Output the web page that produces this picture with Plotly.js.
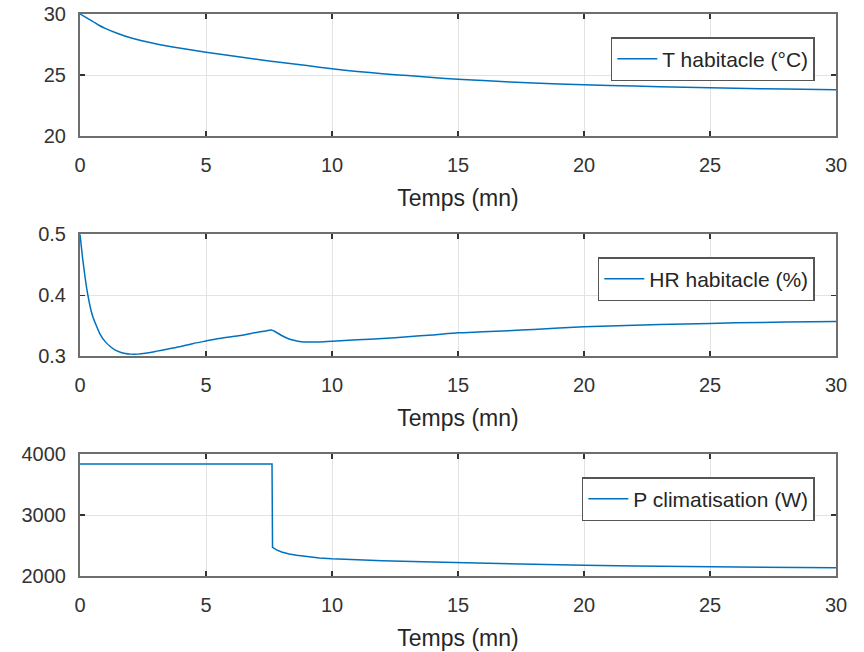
<!DOCTYPE html>
<html>
<head>
<meta charset="utf-8">
<script src="https://cdn.plot.ly/plotly-3.0.1.min.js"></script>
<style>html,body{margin:0;padding:0;background:#fff;}#chart{width:864px;height:652px;}</style>
</head>
<body>
<div id="chart"></div>
<script>
// Temperature (°C)
const tT = [0, 0.25, 0.5, 0.75, 1, 1.5, 2, 3, 4, 5, 6, 7, 8, 9, 10, 11, 12, 13, 14, 15, 16, 18, 20, 22, 24, 26, 28, 30];
const vT = [30, 29.7, 29.4, 29.08, 28.82, 28.4, 28.05, 27.57, 27.2, 26.88, 26.58, 26.3, 26.03, 25.78, 25.52, 25.3, 25.12, 24.96, 24.8, 24.66, 24.55, 24.36, 24.21, 24.1, 24.01, 23.93, 23.86, 23.8];

// Relative humidity (fraction)
const tHR = [0, 0.1, 0.2, 0.3, 0.4, 0.5, 0.65, 0.8, 1.0, 1.2, 1.4, 1.6, 1.8, 2.0, 2.3, 2.6, 3, 3.5, 4, 4.5, 5, 5.5, 6, 6.5, 7, 7.3, 7.6, 7.8, 8.0, 8.2, 8.4, 8.6, 8.8, 9.0, 9.5, 10, 11, 12, 13, 14, 15, 16, 17, 18, 20, 22, 24, 26, 28, 30];
const vHR = [0.500, 0.462, 0.430, 0.403, 0.382, 0.366, 0.350, 0.336, 0.324, 0.316, 0.310, 0.3065, 0.3045, 0.3035, 0.3035, 0.305, 0.308, 0.312, 0.316, 0.321, 0.325, 0.329, 0.332, 0.335, 0.339, 0.341, 0.343, 0.339, 0.334, 0.330, 0.327, 0.325, 0.3237, 0.3233, 0.3235, 0.3245, 0.327, 0.329, 0.332, 0.335, 0.3385, 0.340, 0.342, 0.344, 0.3485, 0.351, 0.353, 0.3548, 0.356, 0.357];

// Air-conditioning power (W)
const tP = [0, 7.62, 7.64, 7.8, 8.0, 8.3, 8.6, 9.0, 9.5, 10, 11, 12, 14, 16, 18, 20, 22, 25, 28, 30];
const vP = [3840, 3840, 2470, 2430, 2395, 2360, 2340, 2315, 2295, 2282, 2265, 2250, 2228, 2208, 2190, 2175, 2163, 2150, 2140, 2135];

const names = ['T habitacle (°C)', 'HR habitacle (%)', 'P climatisation (W)'];
const xTitle = 'Temps (mn)';

const FONT = 'Liberation Sans, Arial, sans-serif';
const lineColor = '#0072BD';

const traces = [
  {x: tT, y: vT, name: names[0], xaxis: 'x', yaxis: 'y', legend: 'legend', line: {shape: 'spline', smoothing: 0.8}},
  {x: tHR, y: vHR, name: names[1], xaxis: 'x2', yaxis: 'y2', legend: 'legend2', line: {shape: 'spline', smoothing: 0.5}},
  {x: tP, y: vP, name: names[2], xaxis: 'x3', yaxis: 'y3', legend: 'legend3', line: {shape: 'linear'}}
].map(t => { t.type = 'scatter'; t.mode = 'lines'; t.showlegend = true;
  t.line.color = lineColor; t.line.width = 1.5; return t; });

function xax(anchor) {
  return {
    anchor: anchor, domain: [0, 1], range: [0, 30], dtick: 5, tick0: 0,
    showline: true, linecolor: '#6e6e6e', linewidth: 2, mirror: 'allticks',
    ticks: 'inside', ticklen: 5, tickwidth: 1.5, tickcolor: '#333',
    showgrid: true, gridcolor: '#e3e3e3', gridwidth: 1, zeroline: false,
    tickfont: {family: FONT, size: 20, color: '#333'},
    ticklabelstandoff: 10,
    title: {text: xTitle, font: {family: FONT, size: 23, color: '#262626'}, standoff: 15},
    automargin: false
  };
}
function yax(anchor, dom, range, dtick, fmt) {
  return {
    anchor: anchor, domain: dom, range: range, dtick: dtick, tick0: range[0],
    showline: true, linecolor: '#6e6e6e', linewidth: 2, mirror: 'allticks',
    ticks: 'inside', ticklen: 5, tickwidth: 1.5, tickcolor: '#333',
    showgrid: true, gridcolor: '#e3e3e3', gridwidth: 1, zeroline: false,
    tickfont: {family: FONT, size: 20, color: '#333'},
    tickformat: fmt, ticklabelstandoff: 8,
    automargin: false
  };
}
function leg(y) {
  return {x: 0.972, y: y, xanchor: 'right', yanchor: 'top',
    bgcolor: '#ffffff', bordercolor: '#555', borderwidth: 1.5,
    font: {family: FONT, size: 21, color: '#262626'}, itemwidth: 40};
}

const doms = [[0.7825, 1], [0.391, 0.608], [0, 0.2166]];

const layout = {
  width: 864, height: 652,
  margin: {l: 80, r: 28, t: 14, b: 76},
  paper_bgcolor: '#ffffff', plot_bgcolor: '#ffffff',
  font: {family: FONT},
  xaxis: xax('y'), yaxis: yax('x', doms[0], [20, 30], 5, 'd'),
  xaxis2: xax('y2'), yaxis2: yax('x2', doms[1], [0.3, 0.5], 0.1, '.1f'),
  xaxis3: xax('y3'), yaxis3: yax('x3', doms[2], [2000, 4000], 1000, 'd'),
  legend: leg(0.959), legend2: leg(0.5676), legend3: leg(0.176)
};

Plotly.newPlot('chart', traces, layout, {displayModeBar: false, staticPlot: true});
</script>
</body>
</html>
